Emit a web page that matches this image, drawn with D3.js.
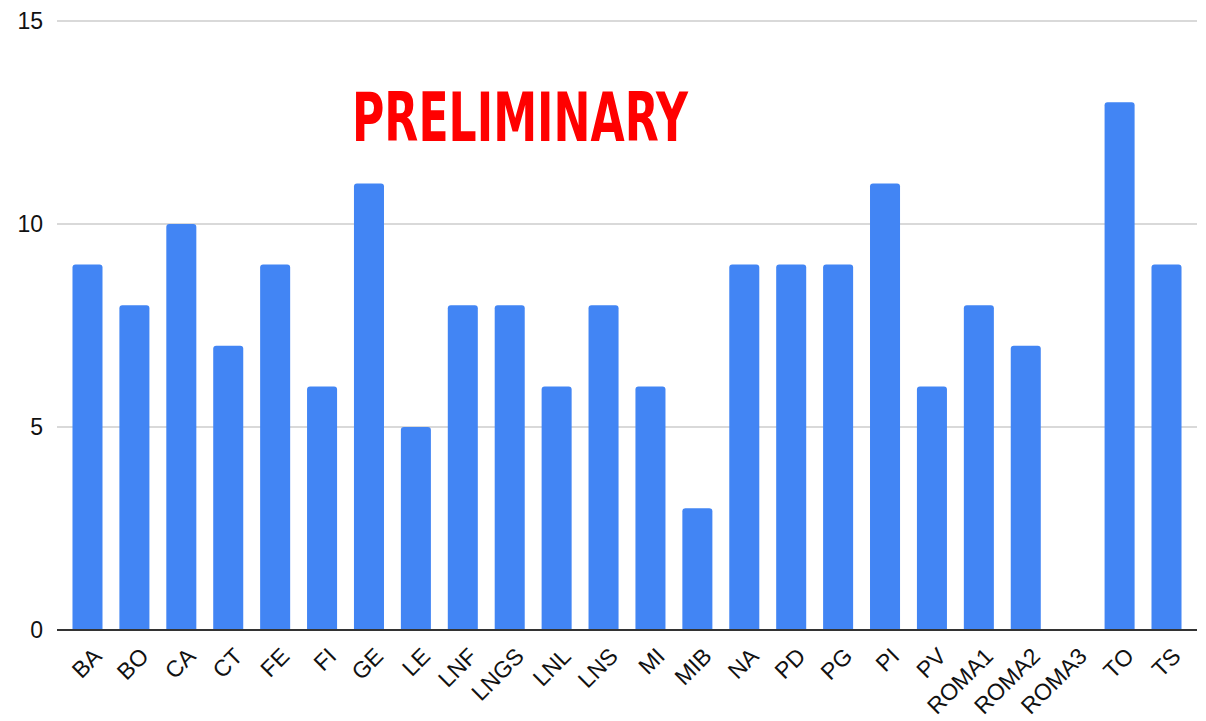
<!DOCTYPE html>
<html>
<head>
<meta charset="utf-8">
<script src="https://cdn.jsdelivr.net/npm/d3@7"></script>
<style>
  body { margin: 0; background: #fff; }
  text { font-family: "Liberation Sans", Arial, sans-serif; }
</style>
</head>
<body>
<svg id="chart"></svg>
<script>
var width = 1206, height = 721;
var marginTop = 21, marginLeft = 57, marginRight = 9, marginBottom = 91;

var sites = ["BA", "BO", "CA", "CT", "FE", "FI", "GE", "LE", "LNF", "LNGS", "LNL", "LNS",
             "MI", "MIB", "NA", "PD", "PG", "PI", "PV", "ROMA1", "ROMA2", "ROMA3", "TO", "TS"];
var counts = [9, 8, 10, 7, 9, 6, 11, 5, 8, 8, 6, 8,
              6, 3, 9, 9, 9, 11, 6, 8, 7, 0, 13, 9];
var yTicks = [0, 5, 10, 15];

var svg = d3.select("#chart")
  .attr("width", width)
  .attr("height", height);

var x = d3.scaleBand()
  .domain(sites)
  .range([marginLeft, width - marginRight])
  .paddingInner(0.36)
  .paddingOuter(0.33);

var y = d3.scaleLinear()
  .domain([0, 15])
  .range([height - marginBottom, marginTop]);

// gridlines
svg.append("g")
  .selectAll("line")
  .data(yTicks.filter(function(d) { return d > 0; }))
  .enter()
  .append("line")
  .attr("x1", marginLeft)
  .attr("x2", width - marginRight)
  .attr("y1", function(d) { return y(d); })
  .attr("y2", function(d) { return y(d); })
  .style("stroke", "#cccccc")
  .style("stroke-width", 1.5);

// y labels
svg.append("g")
  .selectAll("text")
  .data(yTicks)
  .enter()
  .append("text")
  .attr("x", 43)
  .attr("y", function(d) { return y(d); })
  .attr("dy", "0.35em")
  .attr("text-anchor", "end")
  .style("font-size", "23px")
  .style("fill", "#111")
  .text(function(d) { return d; });

// bars, slightly rounded at the top
var r = 3;
svg.append("g")
  .selectAll("path")
  .data(sites.map(function(s, i) { return {site: s, value: counts[i]}; })
    .filter(function(d) { return d.value > 0; }))
  .enter()
  .append("path")
  .attr("d", function(d) {
    var x0 = x(d.site), w = x.bandwidth(), y0 = y(d.value), yb = y(0);
    return "M" + x0 + "," + yb +
      "V" + (y0 + r) +
      "Q" + x0 + "," + y0 + " " + (x0 + r) + "," + y0 +
      "H" + (x0 + w - r) +
      "Q" + (x0 + w) + "," + y0 + " " + (x0 + w) + "," + (y0 + r) +
      "V" + yb + "Z";
  })
  .style("fill", "#4285f4");

// baseline
svg.append("line")
  .attr("x1", marginLeft)
  .attr("x2", width - marginRight)
  .attr("y1", y(0))
  .attr("y2", y(0))
  .style("stroke", "#333333")
  .style("stroke-width", 2);

// x labels rotated
svg.append("g")
  .selectAll("text")
  .data(sites)
  .enter()
  .append("text")
  .attr("transform", function(d) {
    return "translate(" + (x(d) + x.bandwidth() / 2 + 10) + "," + (y(0) + 22) + ") rotate(-45)";
  })
  .attr("text-anchor", "end")
  .attr("dy", "0.35em")
  .style("font-size", "23px")
  .style("fill", "#111")
  .text(function(d) { return d; });

// watermark
svg.append("text")
  .attr("x", 352)
  .attr("y", 141)
  .attr("textLength", 336)
  .attr("lengthAdjust", "spacingAndGlyphs")
  .style("font-family", "'DejaVu Sans Condensed', 'Liberation Sans Narrow', 'Liberation Sans', sans-serif")
  .style("font-weight", "bold")
  .style("font-size", "67px")
  .style("fill", "#ff0000")
  .text("PRELIMINARY");
</script>
</body>
</html>
